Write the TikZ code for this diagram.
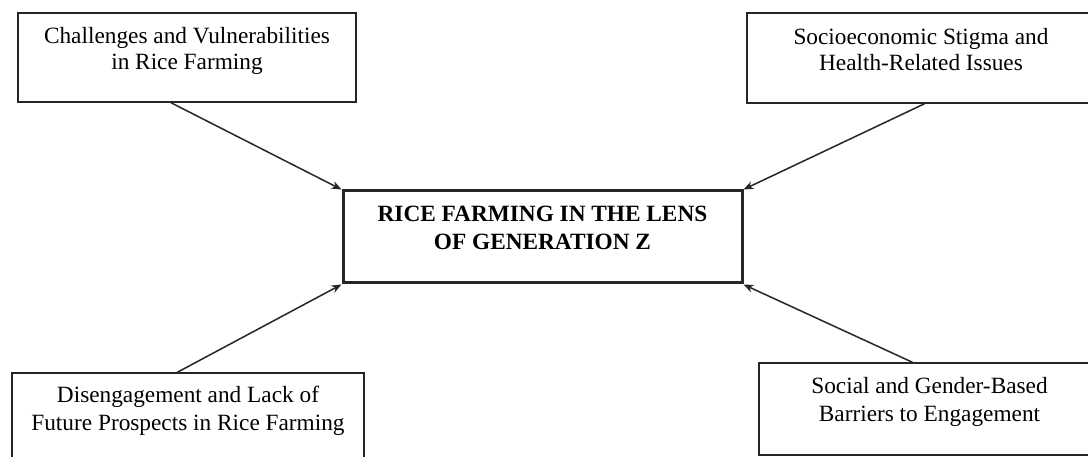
\documentclass[tikz,border=0pt]{standalone}
\usepackage{fontspec}
\setmainfont{Liberation Serif}
\usetikzlibrary{arrows.meta,calc}
\begin{document}
\begin{tikzpicture}[x=1pt,y=-1pt,
  box/.style={draw=black!85,line width=1.5pt,minimum width=#1,inner sep=0pt},
  lbl/.style={anchor=north,align=center,inner sep=0pt,font=\fontsize{23.3}{26}\selectfont},
  arr/.style={draw=black!85,line width=1.5pt,-{Stealth[length=10pt,width=8pt]}}]
\useasboundingbox (0,0) rectangle (1088,457);
\clip (0,0) rectangle (1088,457);
\fill[white] (0,0) rectangle (1088,457);
% boxes
\node[box=338pt,minimum height=89pt] (tl) at (187,57.5) {};
\node[box=348pt,minimum height=90pt] (tr) at (921,58) {};
\node[box=352pt,minimum height=97pt] (bl) at (188,421.5) {};
\node[box=341pt,minimum height=92pt] (br) at (929.5,409) {};
\node[box=399pt,minimum height=92pt,line width=3pt] (c) at (542.5,237) {};
% texts
\node[lbl] (tlt) at (187,27) {Challenges and Vulnerabilities\\in Rice Farming};
\node[lbl] (trt) at (921,28) {Socioeconomic Stigma and\\Health-Related Issues};
\node[lbl,font=\fontsize{23.3}{28}\selectfont\bfseries] (ct) at (542.5,206) {RICE FARMING IN THE LENS\\OF GENERATION Z};
\node[lbl,font=\fontsize{23.3}{28}\selectfont] (blt) at (188,386) {Disengagement and Lack of\\Future Prospects in Rice Farming};
\node[lbl,font=\fontsize{23.3}{28}\selectfont] (brt) at (929.5,377) {Social and Gender-Based\\Barriers to Engagement};
% connectors
\draw[arr] ($(tl.south west)!0.453!(tl.south east)$) -- (c.north west);
\draw[arr] ($(tr.south west)!0.51!(tr.south east)$) -- (c.north east);
\draw[arr] ($(bl.north west)!0.47!(bl.north east)$) -- (c.south west);
\draw[arr] ($(br.north west)!0.45!(br.north east)$) -- (c.south east);
\end{tikzpicture}
\end{document}
